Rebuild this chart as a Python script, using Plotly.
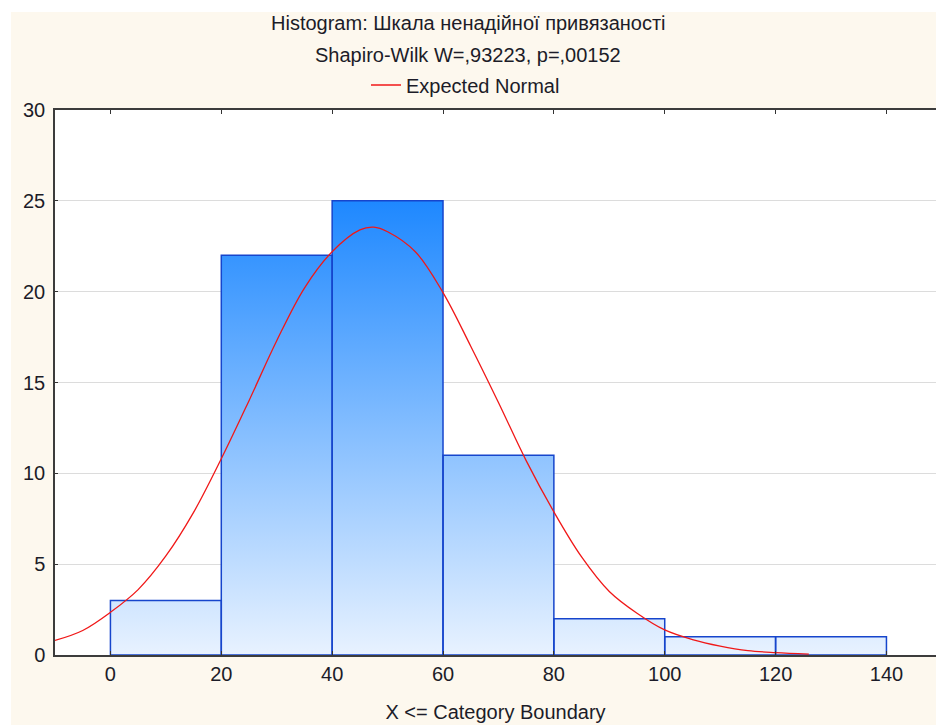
import plotly.graph_objects as go

# ---- data ----
bin_edges = [0, 20, 40, 60, 80, 100, 120, 140]
counts = [3, 22, 25, 11, 2, 1, 1]

curve_x = [-10, -5, 0, 5, 10, 15, 20, 25, 30, 35, 40, 45, 47.5, 50, 55, 60, 65, 70,
           75, 80, 85, 90, 95, 100, 105, 110, 115, 120, 126]
curve_y = [0.8, 1.35, 2.35, 3.6, 5.45, 7.85, 10.8, 14.0, 17.3, 20.2, 22.2, 23.4, 23.55,
           23.3, 22.2, 19.95, 17.0, 13.9, 10.7, 7.88, 5.4, 3.5, 2.3, 1.38, 0.85, 0.49,
           0.24, 0.13, 0.05]

x_ticks = [0, 20, 40, 60, 80, 100, 120, 140]
y_ticks = [0, 5, 10, 15, 20, 25, 30]

title_line1 = "Histogram: Шкала ненадійної привязаності"
title_line2 = "Shapiro-Wilk W=,93223, p=,00152"
legend_name = "Expected Normal"
x_title = "X &lt;= Category Boundary"

# ---- build ----
W, H = 936, 725
ML, MR, MT, MB = 55, 0, 110, 70
PW, PH = W - ML - MR, H - MT - MB
FONT = "Liberation Sans, Arial, sans-serif"
TXT = "#1c1c28"

def px_x(p):
    return (p - ML) / PW

def px_y(p):
    return (H - MB - p) / PH

bx, by = [], []
for i, c in enumerate(counts):
    l, r = bin_edges[i], bin_edges[i + 1]
    bx += [l, l, r, r, l, None]
    by += [0, c, c, 0, 0, None]

fig = go.Figure()
fig.add_trace(go.Scatter(
    x=bx, y=by, mode="lines", fill="toself",
    line=dict(color="#1645CC", width=1.5),
    fillgradient=dict(type="vertical",
                      colorscale=[[0, "#E8F2FF"], [1, "#1E88FF"]],
                      start=0, stop=25),
    showlegend=False, hoverinfo="skip",
))
fig.add_trace(go.Scatter(
    x=curve_x, y=curve_y, mode="lines", name=legend_name,
    line=dict(color="#F01818", width=1.3, shape="spline", smoothing=1.0),
))

fig.update_layout(
    width=W, height=H,
    margin=dict(l=ML, r=MR, t=MT, b=MB, pad=0),
    paper_bgcolor="#FDF8EE", plot_bgcolor="#FFFFFF",
    font=dict(family=FONT, size=20, color=TXT),
    showlegend=True,
    legend=dict(orientation="h", x=px_x(366), xanchor="left",
                y=px_y(85), yanchor="middle",
                bgcolor="rgba(0,0,0,0)", font=dict(size=20, color=TXT),
                itemwidth=30),
    xaxis=dict(range=[-10, -10 + PW / 5.543], tickvals=x_ticks,
               ticks="inside", ticklen=4, tickcolor="#333",
               showline=True, linecolor="#3c3c3c", linewidth=2, mirror="ticks",
               showgrid=False, zeroline=False,
               title=dict(text=x_title, standoff=21, font=dict(size=20, color=TXT)),
               tickfont=dict(size=20, color=TXT)),
    yaxis=dict(range=[0, 30], tickvals=y_ticks,
               ticks="inside", ticklen=3, tickcolor="#333",
               showline=True, linecolor="#3c3c3c", linewidth=1.5,
               showgrid=True, gridcolor="#DCDCDC", gridwidth=1, zeroline=False,
               tickfont=dict(size=20, color=TXT), ticklabelstandoff=4),
    annotations=[
        dict(text=title_line1, xref="paper", yref="paper", x=px_x(468), y=px_y(23),
             xanchor="center", yanchor="middle", showarrow=False,
             font=dict(size=20, color=TXT)),
        dict(text=title_line2, xref="paper", yref="paper", x=px_x(468), y=px_y(55),
             xanchor="center", yanchor="middle", showarrow=False,
             font=dict(size=20, color=TXT)),
    ],
    shapes=[
        dict(type="rect", xref="paper", yref="paper", x0=px_x(0), x1=px_x(11),
             y0=px_y(H), y1=px_y(0), fillcolor="#FFFFFF", line=dict(width=0)),
        dict(type="rect", xref="paper", yref="paper", x0=px_x(0), x1=px_x(W),
             y0=px_y(12), y1=px_y(0), fillcolor="#FFFFFF", line=dict(width=0)),
    ],
)

fig.write_html("out.html", config={"displayModeBar": False},
               post_script="document.body.style.margin='0';document.body.style.overflow='hidden';")
